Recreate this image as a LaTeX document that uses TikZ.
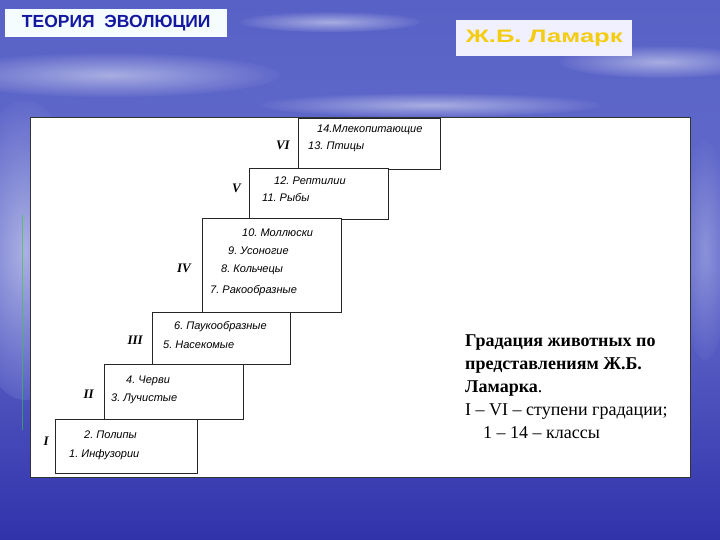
\documentclass[tikz,border=0pt]{standalone}
\usepackage{fontspec}
\setmainfont{Liberation Serif}
\setsansfont{Liberation Sans}
\newfontfamily\widesans[FakeStretch=1.42]{Liberation Sans}
\usetikzlibrary{positioning}
\definecolor{skytop}{RGB}{88,98,198}
\definecolor{skymid}{RGB}{100,108,204}
\definecolor{skybot}{RGB}{48,50,170}
\definecolor{titleblue}{RGB}{20,24,160}
\definecolor{namegold}{RGB}{244,204,16}
\frenchspacing

\begin{document}
\begin{tikzpicture}[x=1pt,y=-1pt,
    stage/.style={draw=black!85, line width=1.1pt, fill=white, anchor=north west, inner sep=0pt},
    cls/.style={anchor=west, inner sep=0pt, font=\sffamily\itshape\fontsize{11}{12}\selectfont},
    rom/.style={inner sep=0pt, font=\rmfamily\itshape\bfseries\fontsize{13}{14}\selectfont},
    cloud/.style={inner color=white!85!skymid, outer color=skymid, opacity=0.55}]
\useasboundingbox (0,0) rectangle (720,540);
% background
\shade[top color=skytop, bottom color=skybot, middle color=skymid] (0,0) rectangle (720,540);
\shade[cloud] (110,75) ellipse (170 and 22);
\shade[cloud] (25,250) ellipse (60 and 150);
\shade[cloud] (430,105) ellipse (170 and 12);
\shade[cloud] (660,62) ellipse (100 and 16);
\shade[cloud] (330,22) ellipse (90 and 10);
\shade[cloud, opacity=0.3] (705,250) ellipse (25 and 110);
\draw[green!60!gray, opacity=0.6, line width=0.6pt] (22,215) -- (22,430);

% header boxes
\node[fill=cyan!4, minimum width=222pt, minimum height=28pt, anchor=north west, inner sep=0pt,
      font=\sffamily\bfseries\fontsize{17.5}{18}\selectfont, text=titleblue] (theme) at (5,9) {ТЕОРИЯ\ \ ЭВОЛЮЦИИ};
\node[fill=blue!6, minimum width=176pt, minimum height=36pt, anchor=north west, inner sep=0pt,
      font=\widesans\bfseries\fontsize{18}{20}\selectfont, text=namegold] (name) at (456,20) {Ж.Б. Ламарк};

% panel
\node[draw=black!80, line width=0.8pt, fill=white, minimum width=660pt, minimum height=360pt,
      anchor=north west, inner sep=0pt] (panel) at (30,117) {};

% stages
\node[stage, minimum width=142pt, minimum height=51pt] (s6) at (298,118) {};
\node[stage, minimum width=139pt, minimum height=51pt] (s5) at (249,168) {};
\node[stage, minimum width=139pt, minimum height=94pt] (s4) at (202,218) {};
\node[stage, minimum width=138pt, minimum height=52pt] (s3) at (152,312) {};
\node[stage, minimum width=139pt, minimum height=55pt] (s2) at (104,364) {};
\node[stage, minimum width=142pt, minimum height=54pt] (s1) at (55,419) {};

\node[rom, left=8pt of s6.west, yshift=-1pt] (r6) {VI};
\node[rom, left=8pt of s5.west, yshift=6pt] (r5) {V};
\node[rom, left=11pt of s4.west, yshift=-3pt] (r4) {IV};
\node[rom, left=9pt of s3.west, yshift=-2pt] (r3) {III};
\node[rom, left=10pt of s2.west, yshift=-2pt] (r2) {II};
\node[rom, left=6pt of s1.west, yshift=5pt] (r1) {I};

% classes
\node[cls] (c14) at (317,130) {14.Млекопитающие};
\node[cls] (c13) at (308,147) {13. Птицы};
\node[cls] (c12) at (274,181) {12. Рептилии};
\node[cls] (c11) at (262,198) {11. Рыбы};
\node[cls] (c10) at (242,233) {10. Моллюски};
\node[cls] (c9) at (228,251) {9. Усоногие};
\node[cls] (c8) at (221,270) {8. Кольчецы};
\node[cls] (c7) at (210,291) {7. Ракообразные};
\node[cls] (c6) at (174,327) {6. Паукообразные};
\node[cls] (c5) at (163,345) {5. Насекомые};
\node[cls] (c4) at (126,381) {4. Черви};
\node[cls] (c3) at (111,399) {3. Лучистые};
\node[cls] (c2) at (84,435) {2. Полипы};
\node[cls] (c1) at (69,455) {1. Инфузории};

% caption
\node[anchor=north west, inner sep=0pt, align=left, font=\rmfamily\fontsize{18}{23}\selectfont] (caption) at (465,335)
  {\textbf{Градация животных по}\\ \textbf{представлениям Ж.Б.}\\ \textbf{Ламарка}.\\
   I -- VI -- ступени градации;\\ \hspace*{18pt}1 -- 14 -- классы};
\end{tikzpicture}
\end{document}
